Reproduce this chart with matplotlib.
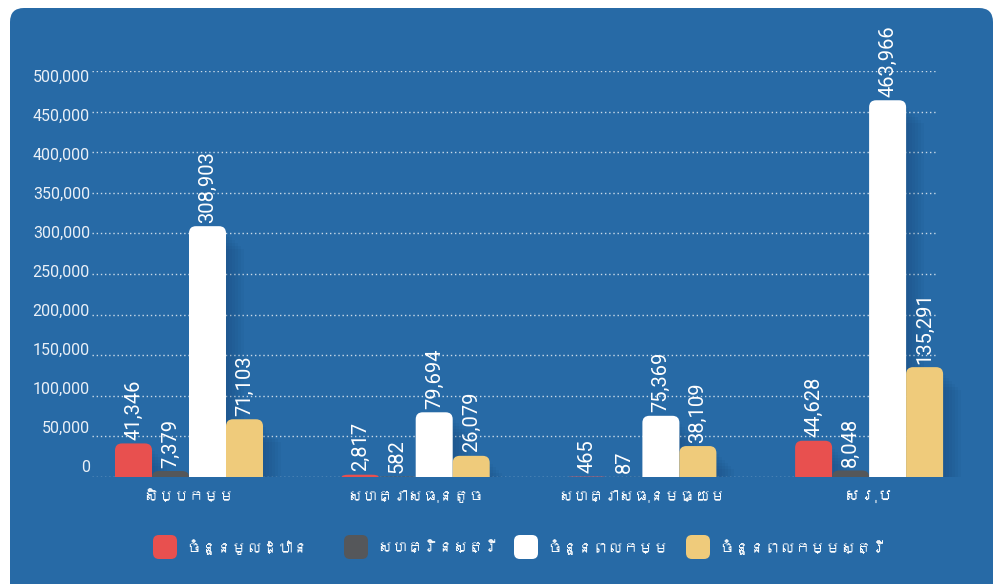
import matplotlib
matplotlib.use("Agg")
import matplotlib.pyplot as plt
from matplotlib.patches import FancyBboxPatch, PathPatch, Rectangle
from matplotlib.path import Path
from matplotlib import font_manager as fm
from matplotlib.ft2font import FT2Font

# data
categories = ["សិប្បកម្ម", "សហគ្រាសធុនតូច", "សហគ្រាសធុនមធ្យម", "សរុប"]
series_names = ["ចំនួនមូលដ្ឋាន", "សហគ្រិនស្ត្រី", "ចំនួនពលកម្ម", "ចំនួនពលកម្មស្ត្រី"]
establishments = [41346, 2817, 465, 44628]
women_owners = [7379, 582, 87, 8048]
workers = [308903, 79694, 75369, 463966]
women_workers = [71103, 26079, 38109, 135291]
yticks = [0, 50000, 100000, 150000, 200000, 250000, 300000, 350000, 400000, 450000, 500000]

colors = ["#E8504F", "#55575A", "#FFFFFF", "#EFCB7B"]
bg_blue = "#276AA6"

# look for a font that has Khmer glyphs
khmer_font = None
for f in fm.fontManager.ttflist:
    try:
        if 0x1780 in FT2Font(f.fname).get_charmap():
            khmer_font = f.name
            break
    except Exception:
        pass
kh_family = [khmer_font, "DejaVu Sans"] if khmer_font else ["DejaVu Sans"]
num_family = ["Roboto", "Liberation Sans", "DejaVu Sans"]

W, H = 994, 584
fig = plt.figure(figsize=(W / 100, H / 100), dpi=100)
fig.patch.set_facecolor("white")

# background panel in pixel coordinates
bg = fig.add_axes([0, 0, 1, 1], zorder=-5)
bg.set_xlim(0, W)
bg.set_ylim(H, 0)
bg.axis("off")
bg.add_patch(FancyBboxPatch((10, 8), 983, 600, boxstyle="round,pad=0,rounding_size=14",
                            facecolor=bg_blue, edgecolor="none"))

# plot area: 92..937 px wide, 0 at y=477, 500k at y=71
unit = 226.7
x_left, x_right = 92, 937
ax = fig.add_axes([x_left / W, 1 - 477 / H, (x_right - x_left) / W, 406 / H])
ax.set_facecolor("none")
ax.set_xlim((x_left - 189) / unit, (x_right - 189) / unit)
ax.set_ylim(0, 500000)
for s in ax.spines.values():
    s.set_visible(False)
ax.set_xticks([])
ax.set_yticks([])
for v in yticks:
    ax.axhline(v, color="white", alpha=0.75, lw=1, ls=(0, (1, 2)), zorder=1)
    off_px = 10 - 16 * v / 500000
    ax.annotate(f"{v:,}", xy=(ax.get_xlim()[0], v), xytext=(-1.5, off_px * 0.72),
                textcoords="offset points", ha="right", va="center",
                color="#EAF0F7", fontsize=11.5, family=num_family, annotation_clip=False)

bw = 37 / unit
px_y = 500000 / 406
rx = 7 / unit


def top_round_bar(x0, w, h, rx, ry):
    ry = min(ry, h)
    verts = [(x0, 0), (x0, h - ry), (x0, h), (x0 + rx, h), (x0 + w - rx, h),
             (x0 + w, h), (x0 + w, h - ry), (x0 + w, 0), (x0, 0)]
    codes = [Path.MOVETO, Path.LINETO, Path.CURVE3, Path.CURVE3, Path.LINETO,
             Path.CURVE3, Path.CURVE3, Path.LINETO, Path.CLOSEPOLY]
    return Path(verts, codes)


all_series = [establishments, women_owners, workers, women_workers]
for j, (vals, c) in enumerate(zip(all_series, colors)):
    for i, v in enumerate(vals):
        x0 = i + (j - 2) * bw
        # soft shadow on the right
        for k in range(6):
            dx = (3 + 3 * k) / unit
            hh = max(v - (8 + 3 * k) * px_y, 0)
            ax.add_patch(Rectangle((x0 + dx, 0), bw, hh, facecolor="#0B2A4F",
                                   alpha=0.04, edgecolor="none", zorder=2, clip_on=False))
        ax.add_patch(PathPatch(top_round_bar(x0, bw, v, rx, 7 * px_y), facecolor=c,
                               edgecolor="none", zorder=3, clip_on=False))
        ax.annotate(f"{v:,}", xy=(x0 + bw / 2, v), xytext=(0, 2.5), textcoords="offset points",
                    rotation=90, ha="center", va="bottom", color="white", fontsize=14.5,
                    family=num_family, zorder=4, annotation_clip=False)

cat_texts = []
for i, name in enumerate(categories):
    t = ax.annotate(name, xy=(i, 0), xytext=(0, -14), textcoords="offset points",
                    ha="center", va="center", color="white", fontsize=13, fontweight="bold",
                    family=kh_family, annotation_clip=False)
    cat_texts.append(t)

# legend
leg_x = [153, 344, 514, 686]
for x, name, c in zip(leg_x, series_names, colors):
    bg.add_patch(FancyBboxPatch((x, 535), 24, 24, boxstyle="round,pad=0,rounding_size=6",
                                facecolor=c, edgecolor="none"))
    bg.text(x + 33, 547, name, ha="left", va="center", color="white", fontsize=11,
            family=kh_family)

# unshaped Khmer runs wide, so shrink category labels towards the original widths
fig.canvas.draw()
r = fig.canvas.get_renderer()
for t, target in zip(cat_texts, [64, 132, 148, 50]):
    wpx = t.get_window_extent(r).width
    t.set_fontsize(min(14, max(11, 13 * target / wpx)))

fig.savefig("out.png", dpi=100)
